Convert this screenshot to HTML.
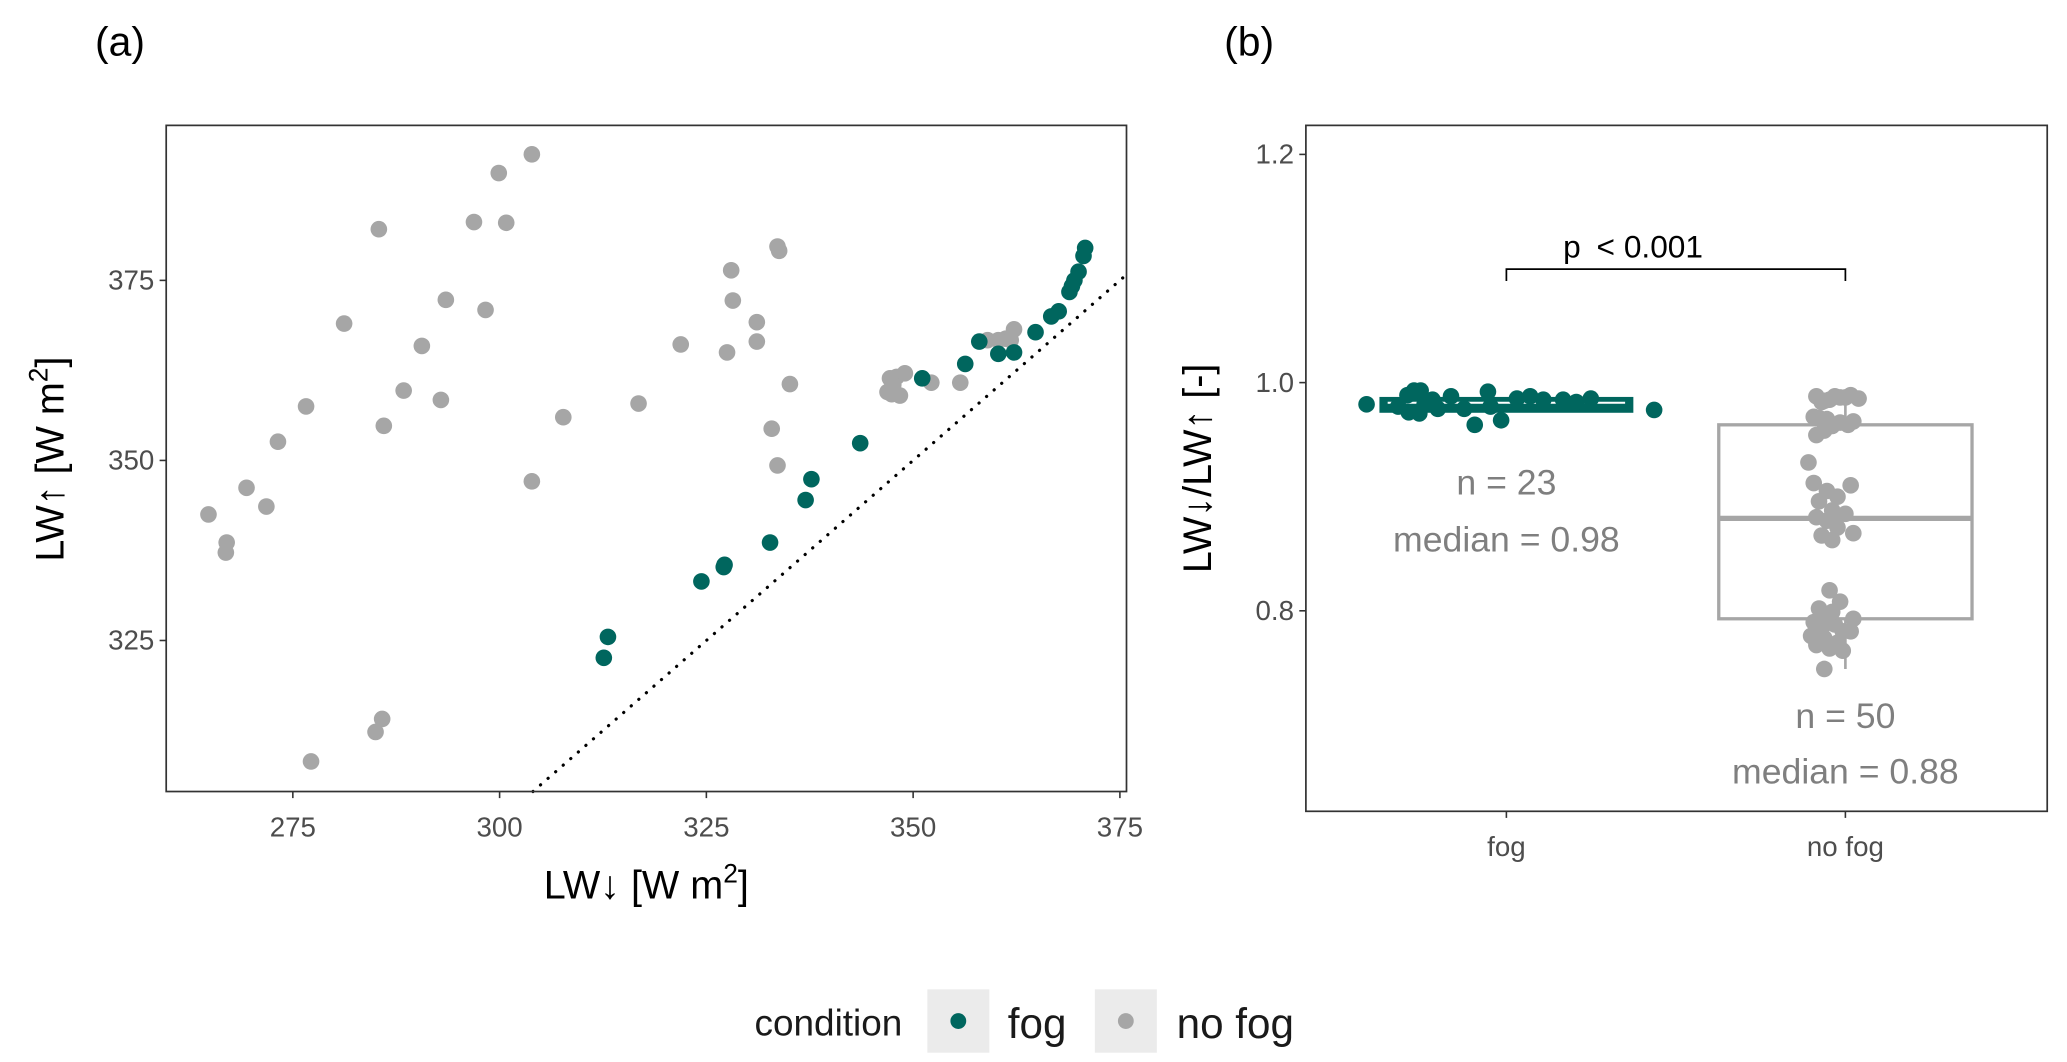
<!DOCTYPE html>
<html><head><meta charset="utf-8"><style>
html,body{margin:0;padding:0;background:#fff;}
svg{display:block;font-family:"Liberation Sans",sans-serif;}
</style></head><body>
<svg id="fig" width="2067" height="1062" viewBox="0 0 1567 805" xmlns="http://www.w3.org/2000/svg">
<text x="72" y="42" font-size="31">(a)</text>
<text x="928" y="42" font-size="31">(b)</text>
<g id="pa"></g>
<g id="pb"></g>
<g>
<text x="572" y="785" font-size="28" fill="#1a1a1a">condition</text>
<rect x="703" y="750" width="47" height="48" fill="#ebebeb"/>
<circle cx="726.5" cy="774" r="6" fill="#00665e"/>
<text x="764" y="787" font-size="32" fill="#1a1a1a">fog</text>
<rect x="830" y="750" width="47" height="48" fill="#ebebeb"/>
<circle cx="853.5" cy="774" r="6" fill="#a6a6a6"/>
<text x="892" y="787" font-size="32" fill="#1a1a1a">no fog</text>
</g>
</svg>
<script>
const NS="http://www.w3.org/2000/svg";
const FOG="#00665e", NOFOG="#a6a6a6";
// Panel (a) data
const xTicksA=[275,300,325,350,375];
const yTicksA=[325,350,375];
const fogLWdown=[312.6,313.1,324.4,327.1,327.2,332.7,337.0,337.7,343.6,351.1,356.3,360.3,362.2,364.8,366.7,367.6,368.9,369.2,370.0,370.6,370.8,358.0,369.5];
const fogLWup=[322.6,325.5,333.2,335.2,335.5,338.6,344.5,347.4,352.4,361.4,363.4,364.8,365.0,367.8,370.0,370.7,373.4,374.2,376.2,378.4,379.5,366.5,375.0];
const nofogLWdown=[264.8,267.0,266.9,269.4,271.8,273.2,276.6,277.2,281.2,285.0,285.8,285.4,286.0,288.4,290.6,292.9,293.5,296.9,298.3,299.9,300.8,303.9,303.9,307.7,316.8,321.9,327.5,328.0,328.2,331.1,331.1,333.6,333.8,333.6,335.1,332.9,346.9,347.2,347.4,348.0,349.0,352.2,355.7,359.0,360.3,361.2,361.8,362.2,347.6,348.4];
const nofogLWup=[342.5,338.6,337.2,346.2,343.6,352.6,357.5,308.2,369.0,312.3,314.1,382.1,354.8,359.7,365.9,358.4,372.3,383.1,370.9,389.9,383.0,392.5,347.1,356.0,357.9,366.1,365.0,376.4,372.2,369.2,366.5,379.7,379.1,349.3,360.6,354.4,359.5,361.4,359.2,361.6,362.1,360.8,360.8,366.7,366.7,366.9,366.7,368.2,360.5,359.0];
// Panel (b) data
const groups=["fog","no fog"];
const yTicksB=[0.8,1.0,1.2];
const fogRatio=[0.981,0.976,0.989,0.993,0.993,0.979,0.974,0.973,0.985,0.977,0.988,0.977,0.963,0.992,0.967,0.986,0.988,0.985,0.985,0.983,0.986,0.981,0.979];
const nofogRatio=[0.988,0.985,0.987,0.989,0.986,0.984,0.988,0.987,0.983,0.970,0.968,0.965,0.966,0.962,0.969,0.963,0.954,0.958,0.930,0.912,0.905,0.900,0.910,0.896,0.888,0.885,0.882,0.879,0.873,0.868,0.866,0.862,0.818,0.808,0.802,0.797,0.793,0.790,0.788,0.785,0.782,0.778,0.776,0.772,0.770,0.767,0.765,0.782,0.799,0.749];
const fogBox={q1:0.975,med:0.98,q3:0.986,lo:0.963,hi:0.993};
const nofogBox={q1:0.793,med:0.881,q3:0.963,lo:0.749,hi:0.989};
const fogJitter=[-106,112,-75,-70,-65,-82,-74,-66,-56,-52,-42,-32,-24,-14,-4,8,18,28,43,53,64,-62,-12];
const nofogJitter=[-22,-12,-4,4,10,-16,-8,0,-18,-24,-14,-4,6,-10,-20,2,-22,-16,-28,-24,-14,-6,4,-20,-10,0,-22,-14,-6,6,-18,-10,-12,-4,-20,-14,6,-24,-8,-18,-2,-26,-16,-6,-22,-12,-2,4,-10,-16];

function el(p,tag,attrs,txt){const e=document.createElementNS(NS,tag);for(const k in attrs)e.setAttribute(k,attrs[k]);if(txt!==undefined)e.textContent=txt;p.appendChild(e);return e;}

// Panel a
const A={l:126,t:95,r:854,b:600};
const xA=v=>222+(v-275)*156.75/25;
const yA=v=>349-(v-350)*136.5/25;
const pa=document.getElementById('pa');
xTicksA.forEach(t=>{
  const l=el(pa,'line',{x1:xA(t),x2:xA(t),y1:A.b,y2:A.b+5,stroke:'#333','stroke-width':1.2});
  
  
  const tx=el(pa,'text',{x:xA(t),y:A.b+34,'font-size':21,fill:'#4d4d4d','text-anchor':'middle'},t);
  
  
});
yTicksA.forEach(t=>{
  const l=el(pa,'line',{x1:A.l-5,x2:A.l,y1:yA(t),y2:yA(t),stroke:'#333','stroke-width':1.2});
  
  
  const tx=el(pa,'text',{x:A.l-9,y:yA(t)+7,'font-size':21,fill:'#4d4d4d','text-anchor':'end'},t);
  
  
});
const vLo=350-(A.b-349)*25/136.5, vHi=375+(A.r-849)*25/156.75;
const dl=el(pa,'line',{x1:xA(vLo),y1:yA(vLo),x2:xA(vHi),y2:yA(vHi),stroke:'#000','stroke-width':2.4,'stroke-dasharray':'0.1 7.5','stroke-linecap':'round'});


nofogLWdown.forEach((v,i)=>{
  const c=el(pa,'circle',{cx:xA(v),cy:yA(nofogLWup[i]),r:6.3,fill:NOFOG});
  
  
});
fogLWdown.forEach((v,i)=>{
  const c=el(pa,'circle',{cx:xA(v),cy:yA(fogLWup[i]),r:6.3,fill:FOG});
  
  
});
const fa=el(pa,'rect',{x:A.l,y:A.t,width:A.r-A.l,height:A.b-A.t,fill:'none',stroke:'#333','stroke-width':1.3});


const xt=el(pa,'text',{x:490,y:681,'font-size':30,fill:'#000','text-anchor':'middle'});


xt.innerHTML='LW↓ [W m<tspan dy="-12" font-size="20">2</tspan><tspan dy="12">]</tspan>';
const yt=el(pa,'text',{x:0,y:0,'font-size':30,fill:'#000','text-anchor':'middle',transform:'translate(48,348) rotate(-90)'});


yt.innerHTML='LW↑ [W m<tspan dy="-12" font-size="20">2</tspan><tspan dy="12">]</tspan>';

// Panel b
const B={l:990,t:95,r:1552,b:615};
const yB=v=>290-(v-1.0)*865;
const xB={"fog":1142,"no fog":1399};
const pb=document.getElementById('pb');
yTicksB.forEach(t=>{
  const l=el(pb,'line',{x1:B.l-5,x2:B.l,y1:yB(t),y2:yB(t),stroke:'#333','stroke-width':1.2});
  
  
  const tx=el(pb,'text',{x:B.l-9,y:yB(t)+7,'font-size':21,fill:'#4d4d4d','text-anchor':'end'},t.toFixed(1));
  
  
});
groups.forEach(g=>{
  const l=el(pb,'line',{x1:xB[g],x2:xB[g],y1:B.b,y2:B.b+5,stroke:'#333','stroke-width':1.2});
  
  
  const tx=el(pb,'text',{x:xB[g],y:B.b+34,'font-size':21,fill:'#4d4d4d','text-anchor':'middle'},g);
  
  
});
function box(g,s,col,name){
  const cx=xB[g],hw=96;
  const w1=el(pb,'line',{x1:cx,x2:cx,y1:yB(s.hi),y2:yB(s.q3),stroke:col,'stroke-width':2});
  
  
  const w2=el(pb,'line',{x1:cx,x2:cx,y1:yB(s.q1),y2:yB(s.lo),stroke:col,'stroke-width':2});
  
  
  const r=el(pb,'rect',{x:cx-hw,y:yB(s.q3),width:2*hw,height:yB(s.q1)-yB(s.q3),fill:'#fff',stroke:col,'stroke-width':2.5});
  
  
  const m=el(pb,'line',{x1:cx-hw,x2:cx+hw,y1:yB(s.med),y2:yB(s.med),stroke:col,'stroke-width':4});
  
  
}
box("no fog",nofogBox,NOFOG,'nofog');
const fr=el(pb,'rect',{x:xB["fog"]-95,y:yB(fogBox.q3),width:190,height:yB(fogBox.q1)-yB(fogBox.q3),fill:FOG,stroke:FOG,'stroke-width':2.5});


const fm=el(pb,'line',{x1:xB["fog"]-90,x2:xB["fog"]+90,y1:yB(fogBox.med)-2,y2:yB(fogBox.med)-2,stroke:'#fff','stroke-width':1.5});


nofogRatio.forEach((v,i)=>{
  const c=el(pb,'circle',{cx:xB["no fog"]+nofogJitter[i],cy:yB(v),r:6.3,fill:NOFOG});
  
  
});
fogRatio.forEach((v,i)=>{
  const c=el(pb,'circle',{cx:xB["fog"]+fogJitter[i],cy:yB(v),r:6.3,fill:FOG});
  
  
});
const fb=el(pb,'rect',{x:B.l,y:B.t,width:B.r-B.l,height:B.b-B.t,fill:'none',stroke:'#333','stroke-width':1.3});


const br=el(pb,'path',{d:`M${xB["fog"]} 213 V204 H${xB["no fog"]} V213`,fill:'none',stroke:'#000','stroke-width':1.3});


const pt=el(pb,'text',{x:1185,y:195,'font-size':24,fill:'#000'});


pt.innerHTML='p<tspan dx="12">&lt; 0.001</tspan>';
[["n = 23",1142,375,'fog-n-label'],["median = 0.98",1142,418,'fog-median-label'],["n = 50",1399,552,'nofog-n-label'],["median = 0.88",1399,594,'nofog-median-label']].forEach(a=>{
  const t=el(pb,'text',{x:a[1],y:a[2],'font-size':27,fill:'#7f7f7f','text-anchor':'middle'},a[0]);
  
  
});
const ybt=el(pb,'text',{x:0,y:0,'font-size':30,fill:'#000','text-anchor':'middle',transform:'translate(918,355) rotate(-90)'},'LW↓/LW↑ [-]');


</script>
</body></html>
